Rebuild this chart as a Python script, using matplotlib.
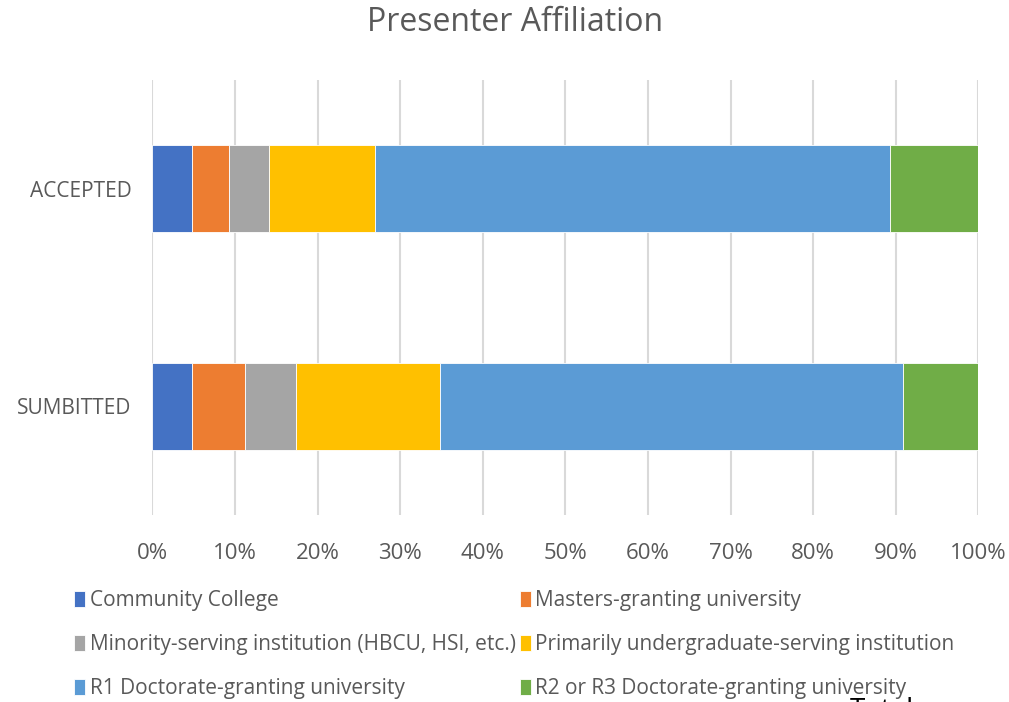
import matplotlib.pyplot as plt
import numpy as np

plt.rcParams['font.family'] = ['Open Sans', 'DejaVu Sans']

# Share of presenters by affiliation (%)
groups = ['SUMBITTED', 'ACCEPTED']
affiliations = [
    'Community College',
    'Masters-granting university',
    'Minority-serving institution (HBCU, HSI, etc.)',
    'Primarily undergraduate-serving institution',
    'R1 Doctorate-granting university',
    'R2 or R3 Doctorate-granting university',
]
submitted = [4.8, 6.4, 6.2, 17.4, 56.1, 9.1]
accepted = [4.8, 4.5, 4.8, 12.9, 62.3, 10.7]
colors = ['#4472C4', '#ED7D31', '#A5A5A5', '#FFC000', '#5B9BD5', '#70AD47']
x_ticks = np.arange(0, 101, 10)

fig = plt.figure(figsize=(10.09, 7.02), dpi=100)
ax = fig.add_axes([0.151, 0.2664, 0.8186, 0.6196])

values = np.array([submitted, accepted])
y = np.arange(len(groups))
left = np.zeros(len(groups))
handles = []
for i, name in enumerate(affiliations):
    h = ax.barh(y, values[:, i], left=left, height=0.4, color=colors[i],
                edgecolor='white', linewidth=0.6, label=name, zorder=3)
    handles.append(h)
    left += values[:, i]

ax.set_xlim(0, 100)
ax.set_ylim(-0.5, 1.5)
ax.set_xticks(x_ticks)
ax.set_xticklabels([f'{t}%' for t in x_ticks])
ax.set_yticks(y)
ax.set_yticklabels(groups)
ax.tick_params(axis='both', length=0, colors='#595959')
ax.tick_params(axis='x', pad=20, labelsize=16)
ax.tick_params(axis='y', pad=15, labelsize=15)
ax.grid(axis='x', color='#D9D9D9', linewidth=1.5, zorder=0)
for s in ax.spines.values():
    s.set_visible(False)

fig.text(0.51, 0.968, 'Presenter Affiliation', ha='center', va='center',
         fontsize=23, color='#595959')

# Excel fills the legend row by row
order = [0, 2, 4, 1, 3, 5]
leg = fig.legend([handles[k] for k in order], [affiliations[k] for k in order],
                 ncol=2, loc='upper left', bbox_to_anchor=(0.063, 0.174),
                 frameon=False, fontsize=15, labelcolor='#595959',
                 handlelength=0.55, handleheight=0.8, handletextpad=0.2,
                 labelspacing=1.1, columnspacing=0.2, borderpad=0)

fig.text(0.842, 0.007, 'Total', ha='left', va='top', fontsize=20, color='black')

fig.savefig('out.png', dpi=100)
